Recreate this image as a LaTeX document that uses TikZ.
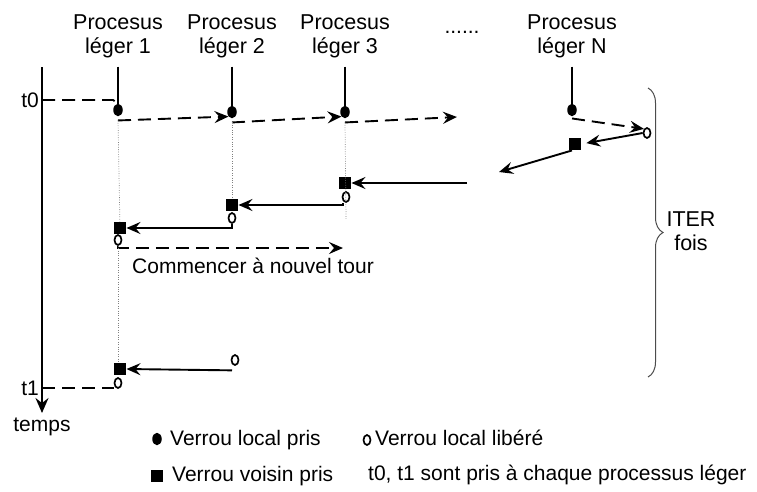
\documentclass[tikz,border=0pt]{standalone}
\usepackage{fontspec}
\setmainfont{Liberation Sans}
\usetikzlibrary{arrows.meta,shapes.geometric,decorations.pathreplacing}
\begin{document}
\begin{tikzpicture}[x=1pt,y=-1pt,
  lbl/.style={font=\fontsize{21.5}{24}\selectfont, inner sep=0pt, align=center},
  txt/.style={font=\fontsize{21}{24}\selectfont, inner sep=0pt},
  dotm/.style={ellipse, fill=black, minimum width=9.5pt, minimum height=12.5pt, inner sep=0pt},
  sqm/.style={rectangle, fill=black, minimum size=12.5pt, inner sep=0pt},
  om/.style={ellipse, draw=black, line width=1.7pt, minimum width=7pt, minimum height=10pt, inner sep=0pt},
  life/.style={line width=1.9pt},
  dsh/.style={line width=1.9pt, dash pattern=on 13pt off 7pt},
  arr/.style={-{Stealth[length=14pt,width=12pt,inset=5pt]}},
  guide/.style={line width=0.7pt, gray, dash pattern=on 0.8pt off 1.6pt},
]
\useasboundingbox (0,0) rectangle (757,491);

% process labels
\node[lbl] (p1) at (118,36.7) {Procesus\\léger 1};
\node[lbl] (p2) at (232,36.7) {Procesus\\léger 2};
\node[lbl] (p3) at (345,36.7) {Procesus\\léger 3};
\node[lbl] (pN) at (572,36.7) {Procesus\\léger N};
\node[txt, anchor=base] (dots) at (462,33) {......};

% locks taken (round 1)
\node[dotm] (d1) at (118,110) {};
\node[dotm] (d2) at (232,112) {};
\node[dotm] (d3) at (345,112) {};
\node[dotm] (dN) at (572,110) {};

% life lines
\draw[life] ([yshift=-8pt]p1.south) -- (d1);
\draw[life] ([yshift=-8pt]p2.south) -- (d2);
\draw[life] ([yshift=-8pt]p3.south) -- (d3);
\draw[life] ([yshift=-8pt]pN.south) -- (dN);

% time axis
\coordinate (ax0) at (42,67);
\coordinate (ax1) at (42,413);
\draw[life, -{Stealth[length=15pt,width=13pt,inset=5pt]}] (ax0) -- (ax1);
\node[txt, anchor=base east] (t0) at (39,107) {t0};
\node[txt, anchor=base east] (t1) at (39,395) {t1};
\node[txt, anchor=base] (temps) at (42,431) {temps};
\coordinate (t0a) at (42,100);
\coordinate (t1a) at (42,388);
\draw[dsh] (t0a) -- (d1.west |- t0a) -- (d1.north);

% round 1 dashed arrows
\draw[dsh,arr] ([yshift=-4pt]d1.south) -- (d2.south west);
\draw[dsh,arr] ([yshift=-4pt]d2.south) -- (d3.south west);
\coordinate (r1end) at (457,117);
\draw[dsh,arr] ([yshift=-4pt]d3.south) -- (r1end);
\node[om] (oN) at (647,133) {};
\draw[dsh,arr] ([yshift=-2pt]dN.south) -- (oN.north west);

% neighbour locks
\node[sqm] (sN) at (575,144) {};
\draw[life,arr,shorten >=5pt] (oN.west) -- (sN.east);
\coordinate (r2end) at (499,172);
\draw[life,arr] ([xshift=-3pt]sN.south) -- (r2end);

\coordinate (h3) at (467,183);
\node[sqm] (s3) at (345,183) {};
\draw[life,arr] (h3) -- (s3.east);
\node[om] (o3) at (346,197) {};
\node[sqm] (s2) at (232,205) {};
\draw[life,arr] ([xshift=-3pt]o3.south) |- (s2.east);
\node[om] (o2) at (232,218) {};
\node[sqm] (s1) at (120,228) {};
\draw[life,arr] (o2.south) |- (s1.east);
\node[om] (o1) at (118,240) {};
\coordinate (r2dash) at (343,248);
\draw[dsh,arr] (o1.south) |- (r2dash);
\node[txt, anchor=base west] (cm) at (132,273) {Commencer à nouvel tour};

% guides
\draw[guide] ([yshift=-4pt]d1.south) -- (s1);
\draw[guide] (o1.south) -- (o1.south |- 0,369);
\draw[guide] ([yshift=-4pt]d2.south) -- (s2);
\draw[guide] ([yshift=-4pt]d3.south) -- ([yshift=-16pt]o3.south);

% last round
\node[sqm] (s1b) at (120,369) {};
\node[om] (o2b) at (235,360) {};
\draw[life,arr] ([xshift=-3pt,yshift=-4.5pt]o2b.south) -- (s1b.east);
\node[om] (o1b) at (118,383) {};
\draw[dsh] (t1a) -- (o1b.west |- t1a);

% brace
\draw[gray!60!black, line width=1pt, decorate, decoration={brace, amplitude=15pt, aspect=0.5}] (648,88) -- (648,377);
\node[lbl] (iter) at (691,231.5) {ITER\\fois};

% legend
\node[dotm] (lg1) at (157,439) {};
\node[txt, anchor=base west] (lg1t) at (170,445) {Verrou local pris};
\node[sqm] (lg2) at (157,476) {};
\node[txt, anchor=base west] (lg2t) at (172,481) {Verrou voisin pris};
\node[om] (lg3) at (367,440) {};
\node[txt, anchor=base west] (lg3t) at (375,445) {Verrou local libéré};
\node[txt, anchor=base west] (lg4t) at (368,480) {t0, t1 sont pris à chaque processus léger};
\end{tikzpicture}
\end{document}
